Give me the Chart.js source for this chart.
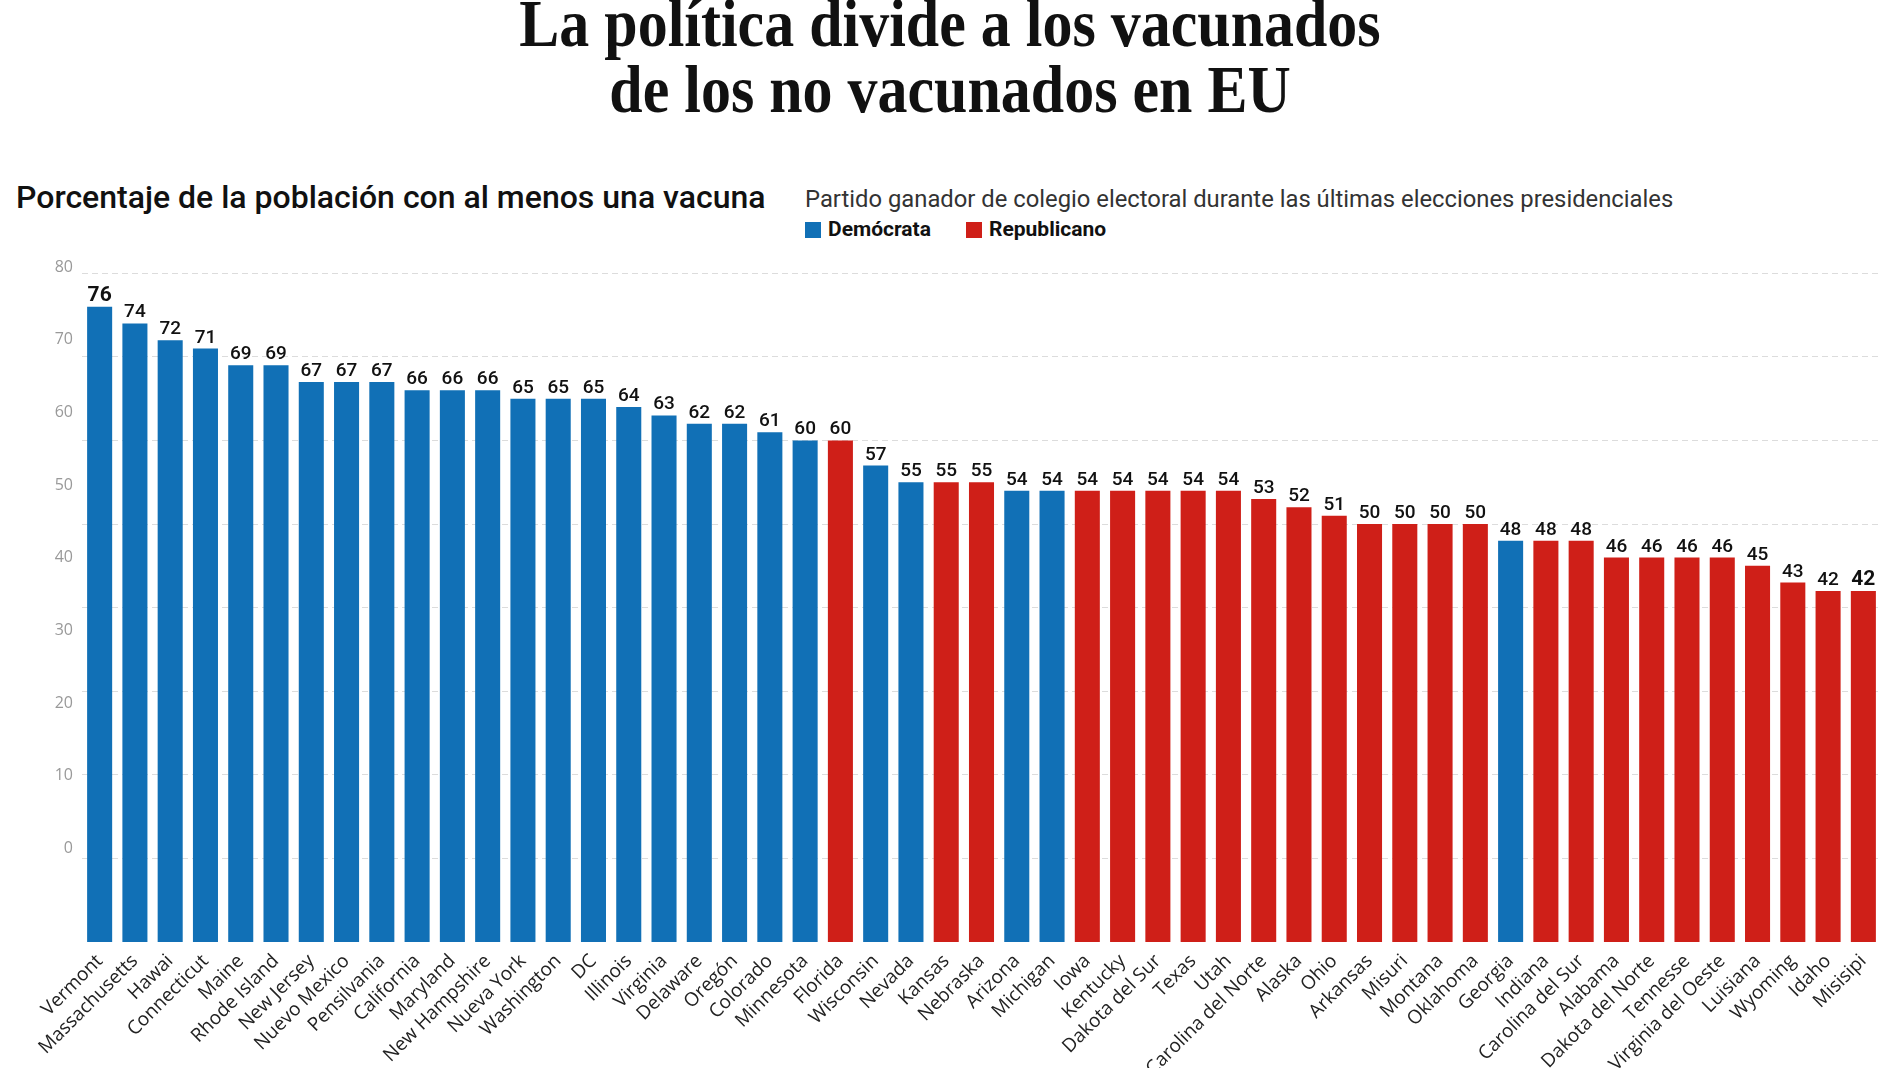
<!DOCTYPE html>
<html lang="es">
<head>
<meta charset="utf-8">
<script src="https://cdn.jsdelivr.net/npm/chart.js@4.4.1/dist/chart.umd.min.js"></script>
<style>
  html, body { margin:0; padding:0; background:#fff; width:1900px; height:1068px; overflow:hidden; position:relative; }
  .title { position:absolute; left:0; top:-10px; width:1900px; text-align:center;
           font-family:"Liberation Serif", serif; font-weight:700; font-size:67px; line-height:66px; color:#111;
           transform:scaleX(0.895); transform-origin:950px 0; }
  .sub1 { position:absolute; left:16px; top:181px; font-family:Roboto, sans-serif; font-weight:500;
          font-size:32px; line-height:32px; color:#111; white-space:nowrap; }
  .sub2 { position:absolute; left:805px; top:187px; font-family:Roboto, sans-serif; font-weight:400;
          font-size:23.8px; line-height:24px; color:#333; white-space:nowrap; }
  .leg { position:absolute; top:219px; font-family:Roboto, sans-serif; font-weight:700; font-size:21px;
         line-height:21px; color:#111; white-space:nowrap; }
  .sw { display:inline-block; width:16px; height:16px; vertical-align:-2px; margin-right:7px; }
  #wrap { position:absolute; left:0; top:238px; width:1900px; height:830px; }
</style>
</head>
<body>
<div class="title">La política divide a los vacunados<br>de los no vacunados en EU</div>
<div class="sub1">Porcentaje de la población con al menos una vacuna</div>
<div class="sub2">Partido ganador de colegio electoral durante las últimas elecciones presidenciales</div>
<div class="leg" style="left:805px"><span class="sw" style="background:#1170B6"></span>Demócrata</div>
<div class="leg" style="left:966px"><span class="sw" style="background:#CF1F18"></span>Republicano</div>
<div id="wrap"><canvas id="c" width="1900" height="830"></canvas></div>
<script>
const states = ['Vermont','Massachusetts','Hawai','Connecticut','Maine','Rhode Island','New Jersey','Nuevo Mexico','Pensilvania','California','Maryland','New Hampshire','Nueva York','Washington','DC','Illinois','Virginia','Delaware','Oregón','Colorado','Minnesota','Florida','Wisconsin','Nevada','Kansas','Nebraska','Arizona','Michigan','Iowa','Kentucky','Dakota del Sur','Texas','Utah','Carolina del Norte','Alaska','Ohio','Arkansas','Misuri','Montana','Oklahoma','Georgia','Indiana','Carolina del Sur','Alabama','Dakota del Norte','Tennesse','Virginia del Oeste','Luisiana','Wyoming','Idaho','Misisipi'];
const values = [76,74,72,71,69,69,67,67,67,66,66,66,65,65,65,64,63,62,62,61,60,60,57,55,55,55,54,54,54,54,54,54,54,53,52,51,50,50,50,50,48,48,48,46,46,46,46,45,43,42,42];
const party = ['D','D','D','D','D','D','D','D','D','D','D','D','D','D','D','D','D','D','D','D','D','R','D','D','R','R','D','D','R','R','R','R','R','R','R','R','R','R','R','R','D','R','R','R','R','R','R','R','R','R','R'];
const partyColors = { D:'#1170B6', R:'#CF1F18' };
const yTickLabels = [0,10,20,30,40,50,60,70,80];
const gridValues = [10,20,30,40,50,60,70,80];

// the printed tick labels are offset/compressed relative to the bar scale (as in the original graphic)
const BAR_MAX = 82;
const LABEL_ZERO = 11.22, LABEL_RATIO = 0.869;

const valueLabels = {
  id:'valueLabels',
  afterDatasetsDraw(chart){
    const ctx = chart.ctx;
    const meta = chart.getDatasetMeta(0);
    ctx.save();
    ctx.textAlign = 'center';
    ctx.textBaseline = 'alphabetic';
    ctx.fillStyle = '#111';
    meta.data.forEach((bar, i) => {
      const strong = (i === 0 || i === values.length - 1);
      ctx.font = strong ? '700 21px Roboto' : '500 19px Roboto';
      ctx.fillText(String(values[i]), bar.x, bar.y - 6);
    });
    ctx.restore();
  }
};

new Chart(document.getElementById('c'), {
  type:'bar',
  data:{
    labels: states,
    datasets:[{
      data: values,
      backgroundColor: party.map(p => partyColors[p]),
      barPercentage: 0.71,
      categoryPercentage: 1,
      yAxisID: 'y'
    }]
  },
  options:{
    responsive:false,
    animation:false,
    layout:{ padding:{ top:10, right:19, left:0, bottom:0 } },
    plugins:{ legend:{display:false}, tooltip:{enabled:false} },
    scales:{
      x:{
        offset:true,
        grid:{ display:false, drawTicks:false },
        border:{ display:false },
        ticks:{ autoSkip:false, minRotation:45, maxRotation:45, padding:8,
                font:{ family:'Open Sans', size:19 }, color:'#222' },
        afterFit(axis){ axis.height = 126; }
      },
      y:{
        position:'left',
        min:0, max:BAR_MAX,
        grid:{ color:'#dcdcdc', lineWidth:1, drawTicks:false },
        border:{ display:false, dash:[6,4] },
        ticks:{ display:false },
        afterBuildTicks(axis){ axis.ticks = gridValues.map(v => ({value:v})); },
        afterFit(axis){ axis.width = 0; }
      },
      yL:{
        position:'left',
        min: -LABEL_ZERO / LABEL_RATIO,
        max: (BAR_MAX - LABEL_ZERO) / LABEL_RATIO,
        grid:{ display:false, drawTicks:false },
        border:{ display:false },
        ticks:{ padding:9, color:'#999', font:{ family:'Open Sans', size:16 } },
        afterBuildTicks(axis){ axis.ticks = yTickLabels.map(v => ({value:v})); },
        afterFit(axis){ axis.width = 82; }
      }
    }
  },
  plugins:[valueLabels]
});
</script>
</body>
</html>
